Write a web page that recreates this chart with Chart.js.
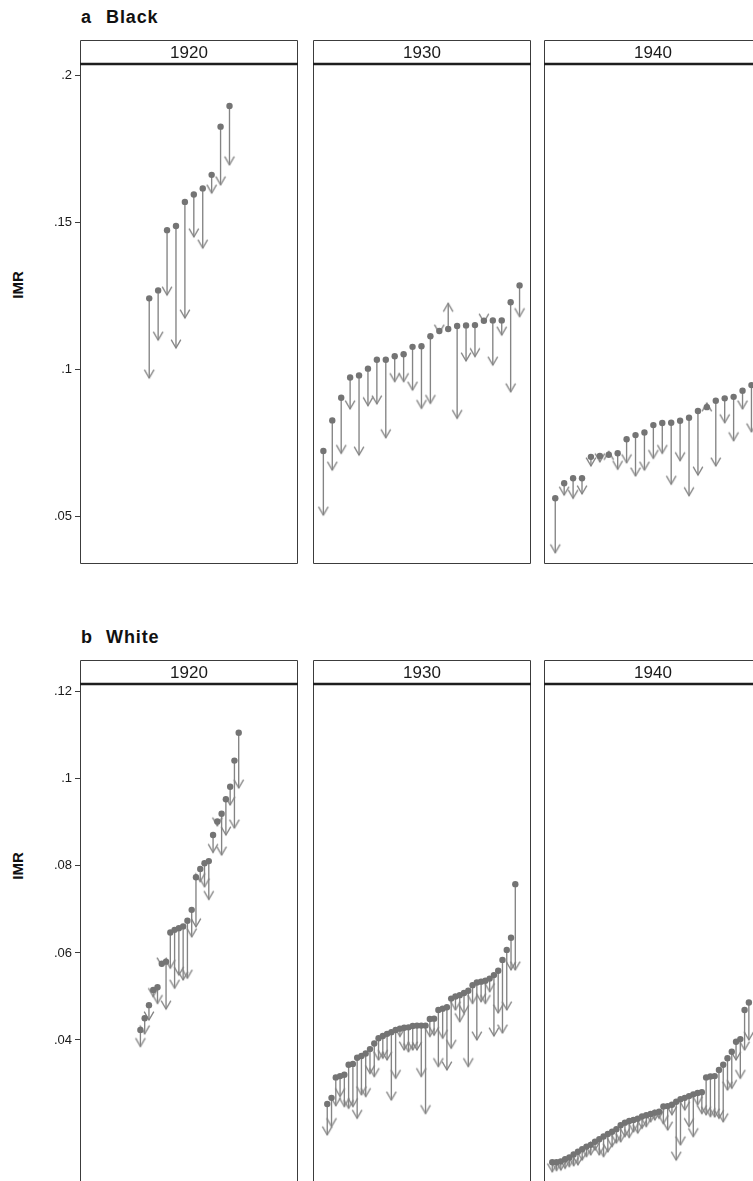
<!DOCTYPE html>
<html><head><meta charset="utf-8">
<script src="https://cdn.jsdelivr.net/npm/chart.js@4.4.1/dist/chart.umd.min.js"></script>
<style>
html,body{margin:0;padding:0;background:#fff;overflow:hidden;width:753px;height:1181px;position:relative;}
canvas{position:absolute;}
.ptitle{position:absolute;font:bold 18px "Liberation Sans",Arial,sans-serif;color:#111;white-space:pre;line-height:18px;letter-spacing:0.9px;}
.ylab{position:absolute;font:bold 15px "Liberation Sans",Arial,sans-serif;color:#111;width:40px;height:16px;line-height:16px;text-align:center;transform:rotate(-90deg);}
</style></head><body>
<div class="ptitle" style="left:81px;top:8px;">a</div><div class="ptitle" style="left:106px;top:8px;">Black</div>
<div class="ptitle" style="left:81px;top:628px;">b</div><div class="ptitle" style="left:106px;top:628px;">White</div>
<div class="ylab" style="left:-2px;top:277px;">IMR</div>
<div class="ylab" style="left:-2px;top:858px;">IMR</div>
<canvas id="a1"></canvas><canvas id="a2"></canvas><canvas id="a3"></canvas>
<canvas id="b1"></canvas><canvas id="b2"></canvas><canvas id="b3"></canvas>
<script>
// ---------- DATA ----------
const years = ['1920', '1930', '1940'];
const blackTicks = [0.05, 0.1, 0.15, 0.2];
const whiteTicks = [0.04, 0.06, 0.08, 0.1, 0.12];

const blackRank1920 = [7.6, 8.6, 9.6, 10.6, 11.6, 12.6, 13.6, 14.6, 15.6, 16.6];
const blackStart1920 = [0.1242, 0.1269, 0.1474, 0.1488, 0.1570, 0.1595, 0.1616, 0.1662, 0.1826, 0.1896];
const blackEnd1920 = [0.0971, 0.1100, 0.1253, 0.1073, 0.1175, 0.1451, 0.1413, 0.1600, 0.1628, 0.1696];

const blackRank1930 = [1, 2, 3, 4, 5, 6, 7, 8, 9, 10, 11, 12, 13, 14, 15, 16, 17, 18, 19, 20, 21, 22, 23];
const blackStart1930 = [0.0723, 0.0827, 0.0904, 0.0973, 0.0980, 0.1003, 0.1033, 0.1033, 0.1045, 0.1052, 0.1077, 0.1079, 0.1113, 0.1131, 0.1138, 0.1148, 0.1150, 0.1151, 0.1166, 0.1167, 0.1167, 0.1229, 0.1286];
const blackEnd1930 = [0.0505, 0.0658, 0.0715, 0.0866, 0.0709, 0.0877, 0.0883, 0.0768, 0.0959, 0.0959, 0.0930, 0.0868, 0.0885, 0.1124, 0.1225, 0.0834, 0.1029, 0.1044, 0.1161, 0.1015, 0.1117, 0.0924, 0.1180];

const blackRank1940 = [1.1, 2.1, 3.1, 4.1, 5.1, 6.1, 7.1, 8.1, 9.1, 10.1, 11.1, 12.1, 13.1, 14.1, 15.1, 16.1, 17.1, 18.1, 19.1, 20.1, 21.1, 22.1, 23.1];
const blackStart1940 = [0.0562, 0.0613, 0.0630, 0.0630, 0.0703, 0.0706, 0.0710, 0.0715, 0.0763, 0.0777, 0.0786, 0.0811, 0.0818, 0.0819, 0.0826, 0.0836, 0.0859, 0.0872, 0.0894, 0.0902, 0.0907, 0.0928, 0.0947];
const blackEnd1940 = [0.0377, 0.0573, 0.0562, 0.0577, 0.0672, 0.0686, 0.0721, 0.0661, 0.0683, 0.0638, 0.0658, 0.0698, 0.0715, 0.0610, 0.0690, 0.0571, 0.0641, 0.0886, 0.0672, 0.0819, 0.0758, 0.0866, 0.0788];

const whiteRank1920 = [13.9, 14.9, 15.9, 16.9, 17.9, 18.9, 19.9, 20.9, 21.9, 22.9, 23.9, 24.9, 25.9, 26.9, 27.9, 28.9, 29.9, 30.9, 31.9, 32.9, 33.9, 34.9, 35.9, 36.9];
const whiteStart1920 = [0.0423, 0.0450, 0.0480, 0.0515, 0.0521, 0.0575, 0.0580, 0.0647, 0.0653, 0.0657, 0.0661, 0.0674, 0.0699, 0.0774, 0.0793, 0.0806, 0.0811, 0.0871, 0.0902, 0.0920, 0.0953, 0.0982, 0.1042, 0.1106];
const whiteEnd1920 = [0.0385, 0.0414, 0.0446, 0.0500, 0.0484, 0.0570, 0.0471, 0.0565, 0.0519, 0.0549, 0.0538, 0.0542, 0.0637, 0.0660, 0.0764, 0.0752, 0.0723, 0.0831, 0.0892, 0.0825, 0.0871, 0.0940, 0.0887, 0.0979];

const whiteRank1930 = [3.1, 4.1, 5.1, 6.1, 7.1, 8.1, 9.1, 10.1, 11.1, 12.1, 13.1, 14.1, 15.1, 16.1, 17.1, 18.1, 19.1, 20.1, 21.1, 22.1, 23.1, 24.1, 25.1, 26.1, 27.1, 28.1, 29.1, 30.1, 31.1, 32.1, 33.1, 34.1, 35.1, 36.1, 37.1, 38.1, 39.1, 40.1, 41.1, 42.1, 43.1, 44.1, 45.1, 46.1, 47.1];
const whiteStart1930 = [0.0253, 0.0267, 0.0314, 0.0317, 0.0320, 0.0343, 0.0345, 0.0359, 0.0363, 0.0369, 0.0379, 0.0392, 0.0404, 0.0409, 0.0414, 0.0418, 0.0423, 0.0426, 0.0428, 0.0429, 0.0432, 0.0433, 0.0433, 0.0433, 0.0448, 0.0449, 0.0469, 0.0472, 0.0475, 0.0495, 0.0500, 0.0503, 0.0508, 0.0513, 0.0526, 0.0532, 0.0534, 0.0536, 0.0541, 0.0549, 0.0559, 0.0584, 0.0607, 0.0635, 0.0758];
const whiteEnd1930 = [0.0182, 0.0201, 0.0249, 0.0270, 0.0247, 0.0243, 0.0247, 0.0220, 0.0274, 0.0270, 0.0323, 0.0316, 0.0354, 0.0358, 0.0354, 0.0262, 0.0312, 0.0408, 0.0377, 0.0373, 0.0377, 0.0377, 0.0316, 0.0231, 0.0408, 0.0411, 0.0339, 0.0404, 0.0331, 0.0381, 0.0469, 0.0442, 0.0461, 0.0339, 0.0484, 0.0400, 0.0488, 0.0484, 0.0511, 0.0409, 0.0462, 0.0416, 0.0469, 0.0561, 0.0561];

const whiteRank1940 = [1.7, 2.7, 3.7, 4.7, 5.7, 6.7, 7.7, 8.7, 9.7, 10.7, 11.7, 12.7, 13.7, 14.7, 15.7, 16.7, 17.7, 18.7, 19.7, 20.7, 21.7, 22.7, 23.7, 24.7, 25.7, 26.7, 27.7, 28.7, 29.7, 30.7, 31.7, 32.7, 33.7, 34.7, 35.7, 36.7, 37.7, 38.7, 39.7, 40.7, 41.7, 42.7, 43.7, 44.7, 45.7, 46.7, 47.7];
const whiteStart1940 = [0.0119, 0.0119, 0.0121, 0.0126, 0.0130, 0.0137, 0.0143, 0.0149, 0.0155, 0.0159, 0.0166, 0.0172, 0.0178, 0.0184, 0.0189, 0.0195, 0.0204, 0.0210, 0.0214, 0.0216, 0.0219, 0.0224, 0.0227, 0.0230, 0.0233, 0.0235, 0.0247, 0.0248, 0.0251, 0.0258, 0.0264, 0.0267, 0.0271, 0.0275, 0.0278, 0.0280, 0.0314, 0.0316, 0.0317, 0.0331, 0.0343, 0.0358, 0.0373, 0.0396, 0.0402, 0.0469, 0.0486];
const whiteEnd1940 = [0.0097, 0.0100, 0.0101, 0.0105, 0.0109, 0.0111, 0.0113, 0.0124, 0.0132, 0.0136, 0.0147, 0.0136, 0.0132, 0.0143, 0.0155, 0.0163, 0.0166, 0.0178, 0.0176, 0.0189, 0.0186, 0.0197, 0.0201, 0.0212, 0.0216, 0.0220, 0.0208, 0.0193, 0.0228, 0.0124, 0.0159, 0.0239, 0.0201, 0.0178, 0.0251, 0.0231, 0.0228, 0.0224, 0.0223, 0.0220, 0.0212, 0.0285, 0.0289, 0.0354, 0.0312, 0.0377, 0.0400];

// ---------- RENDERING ----------
const FONT = '"Liberation Sans", Arial, Helvetica, sans-serif';
const MARK = '#747474';
const LINE = '#848484';

function fmtTick(v) { return String(+v.toFixed(3)).replace(/^0\./, '.'); }

function arrowImage() {
  const c = document.createElement('canvas');
  c.width = 14; c.height = 22;
  const g = c.getContext('2d');
  g.strokeStyle = LINE; g.lineWidth = 1.35; g.lineJoin = 'miter';
  g.beginPath(); g.moveTo(7 - 4.8, 11 - 8.3); g.lineTo(7, 11); g.lineTo(7 + 4.8, 11 - 8.3); g.stroke();
  return c;
}
const ARROW = arrowImage();

const facetFrame = {
  id: 'facetFrame',
  afterDraw(chart, args, opts) {
    const { ctx, chartArea: a } = chart;
    const L = Math.round(a.left) - 0.5, R = Math.round(a.right) + 0.5;
    const T = Math.round(a.top), B = Math.round(a.bottom) + 0.5, H = opts.headerH;
    ctx.save();
    ctx.strokeStyle = '#3c3c3c'; ctx.lineWidth = 1;
    ctx.beginPath();
    ctx.moveTo(L, T); ctx.lineTo(L, B); ctx.lineTo(R, B); ctx.lineTo(R, T);
    ctx.moveTo(L, T); ctx.lineTo(L, T - H + 0.5); ctx.lineTo(R, T - H + 0.5); ctx.lineTo(R, T);
    ctx.stroke();
    ctx.lineWidth = 2.5; ctx.strokeStyle = '#1e1e1e';
    ctx.beginPath(); ctx.moveTo(L - 0.5, T); ctx.lineTo(R + 0.5, T); ctx.stroke();
    ctx.fillStyle = '#1a1a1a'; ctx.font = '17px ' + FONT;
    ctx.textAlign = 'center'; ctx.textBaseline = 'middle';
    ctx.fillText(opts.text, (L + R) / 2, T - H / 2 + 1);
    ctx.restore();
  }
};

function facet(id, cfg) {
  const cv = document.getElementById(id);
  cv.width = cfg.w; cv.height = cfg.h;
  cv.style.left = cfg.left + 'px'; cv.style.top = cfg.top + 'px';
  cv.style.width = cfg.w + 'px'; cv.style.height = cfg.h + 'px';
  const { ranks, starts, ends } = cfg;
  const dots = ranks.map((r, i) => ({ x: r, y: starts[i] }));
  const heads = ranks.map((r, i) => ({ x: r, y: ends[i] }));
  const shafts = [];
  ranks.forEach((r, i) => { shafts.push({ x: r, y: starts[i] }, { x: r, y: ends[i] }, { x: r, y: null }); });
  new Chart(cv, {
    type: 'scatter',
    data: {
      datasets: [
        { data: dots, pointRadius: 3.2, pointBackgroundColor: MARK, pointBorderWidth: 0, pointHoverRadius: 3.2 },
        { data: heads, pointStyle: ARROW, pointRadius: 5,
          rotation: (c) => (ends[c.dataIndex] > starts[c.dataIndex] ? 180 : 0) },
        { data: shafts, showLine: true, spanGaps: false, pointRadius: 0, borderColor: LINE, borderWidth: 1.35 }
      ]
    },
    options: {
      responsive: false, maintainAspectRatio: false, animation: false, events: [],
      layout: { autoPadding: false, padding: { top: 24, bottom: 3, right: 3, left: cfg.padLeft } },
      plugins: { legend: { display: false }, tooltip: { enabled: false },
        facetFrame: { text: cfg.year, headerH: 24 } },
      scales: {
        x: { type: 'linear', display: false, min: cfg.xMin, max: cfg.xMax },
        y: {
          type: 'linear', display: cfg.yAxis, min: cfg.yMin, max: cfg.yMax,
          afterFit: (s) => { s.width = cfg.axisW; s.paddingTop = 0; s.paddingBottom = 0; },
          afterBuildTicks: (s) => { s.ticks = cfg.ticks.map(v => ({ value: v })); },
          ticks: { callback: (v) => fmtTick(v), color: '#1a1a1a', padding: 3,
            font: { family: FONT, size: 13 } },
          grid: { drawOnChartArea: false, drawTicks: true, tickLength: 6, color: '#3c3c3c' },
          border: { display: false }
        }
      }
    },
    plugins: [facetFrame]
  });
}

const blackY = { yMin: 0.0342, yMax: 0.2039, xMin: -0.05, xMax: 24.17, ticks: blackTicks };
const whiteY = { yMin: 0.0069, yMax: 0.1218, xMin: 0, xMax: 50.54, ticks: whiteTicks };

facet('a1', Object.assign({ left: 0, top: 40, w: 300, h: 526, padLeft: 0, axisW: 81, yAxis: true, year: years[0],
  ranks: blackRank1920, starts: blackStart1920, ends: blackEnd1920 }, blackY));
facet('a2', Object.assign({ left: 310, top: 40, w: 223, h: 526, padLeft: 4, axisW: 0, yAxis: false, year: years[1],
  ranks: blackRank1930, starts: blackStart1930, ends: blackEnd1930 }, blackY));
facet('a3', Object.assign({ left: 541, top: 40, w: 223, h: 526, padLeft: 4, axisW: 0, yAxis: false, year: years[2],
  ranks: blackRank1940, starts: blackStart1940, ends: blackEnd1940 }, blackY));

facet('b1', Object.assign({ left: 0, top: 660, w: 300, h: 527, padLeft: 0, axisW: 81, yAxis: true, year: years[0],
  ranks: whiteRank1920, starts: whiteStart1920, ends: whiteEnd1920 }, whiteY));
facet('b2', Object.assign({ left: 310, top: 660, w: 223, h: 527, padLeft: 4, axisW: 0, yAxis: false, year: years[1],
  ranks: whiteRank1930, starts: whiteStart1930, ends: whiteEnd1930 }, whiteY));
facet('b3', Object.assign({ left: 541, top: 660, w: 223, h: 527, padLeft: 4, axisW: 0, yAxis: false, year: years[2],
  ranks: whiteRank1940, starts: whiteStart1940, ends: whiteEnd1940 }, whiteY));
</script>
</body></html>
